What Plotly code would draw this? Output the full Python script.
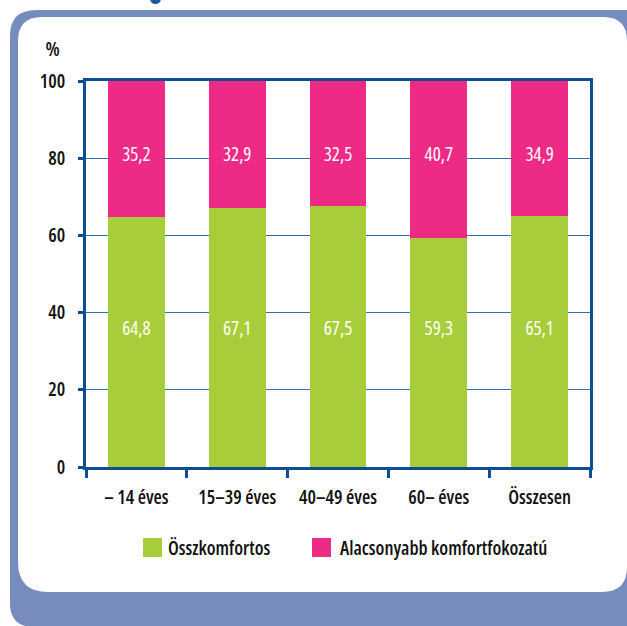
import plotly.graph_objects as go

categories = ["– 14 éves", "15–39 éves", "40–49 éves", "60– éves", "Összesen"]
osszkomfortos = [64.8, 67.1, 67.5, 59.3, 65.1]
alacsonyabb = [35.2, 32.9, 32.5, 40.7, 34.9]
series_names = ["Összkomfortos", "Alacsonyabb komfortfokozatú"]
y_ticks = [0, 20, 40, 60, 80, 100]

GREEN = "#A8CD3A"
PINK = "#EE2A87"
AXIS = "#0D4E92"
FRAME = "#778BBD"
FONT = "Open Sans"

W, H = 627, 626
L, R, T, B = 86, 590, 81, 467  # plot area in pixels


def px(x):
    return (x - L) / (R - L)


def py(y):
    return (B - y) / (B - T)


def rrect(x0, y0, x1, y1, tl, tr, br, bl):
    pts = [
        f"M{px(x0 + tl)},{py(y0)}",
        f"L{px(x1 - tr)},{py(y0)}",
        f"Q{px(x1)},{py(y0)} {px(x1)},{py(y0 + tr)}",
        f"L{px(x1)},{py(y1 - br)}",
        f"Q{px(x1)},{py(y1)} {px(x1 - br)},{py(y1)}",
        f"L{px(x0 + bl)},{py(y1)}",
        f"Q{px(x0)},{py(y1)} {px(x0)},{py(y1 - bl)}",
        f"L{px(x0)},{py(y0 + tl)}",
        f"Q{px(x0)},{py(y0)} {px(x0 + tl)},{py(y0)}",
        "Z",
    ]
    return " ".join(pts)


def f(size, color="#111", weight=600):
    return dict(family=FONT, size=size, color=color, weight=weight)


fig = go.Figure()
fig.add_bar(x=categories, y=osszkomfortos, name=series_names[0],
            marker=dict(color=GREEN, line=dict(width=0)), showlegend=False)
fig.add_bar(x=categories, y=alacsonyabb, name=series_names[1],
            marker=dict(color=PINK, line=dict(width=0)), showlegend=False)

fig.add_scatter(x=categories, y=[35.5] * len(categories), mode="text",
                text=[f"{v:.1f}".replace(".", ",") for v in osszkomfortos],
                textfont=f(19, "white", 500), showlegend=False, hoverinfo="skip")
fig.add_scatter(x=categories, y=[80.6] * len(categories), mode="text",
                text=[f"{v:.1f}".replace(".", ",") for v in alacsonyabb],
                textfont=f(19, "white", 500), showlegend=False, hoverinfo="skip")

shapes = [
    dict(type="path", xref="paper", yref="paper", layer="below",
         path=rrect(10, 10, 660, 627, 26, 26, 22, 24),
         fillcolor=FRAME, line=dict(width=0)),
    dict(type="path", xref="paper", yref="paper", layer="below",
         path=rrect(18, 17, 627, 592, 24, 24, 25, 30),
         fillcolor="white", line=dict(width=0)),
    dict(type="circle", xref="paper", yref="paper", layer="below",
         x0=px(150), x1=px(161), y0=py(4), y1=py(-7),
         fillcolor="#1A5A9A", line=dict(width=0)),
    dict(type="rect", xref="paper", yref="paper",
         x0=px(143), x1=px(162), y0=py(538), y1=py(557),
         fillcolor=GREEN, line=dict(width=0)),
    dict(type="rect", xref="paper", yref="paper",
         x0=px(312), x1=px(331), y0=py(538), y1=py(557),
         fillcolor=PINK, line=dict(width=0)),
]

annotations = [
    dict(text="%", xref="paper", yref="paper", x=px(52), y=py(49),
         showarrow=False, font=f(20), xanchor="center", yanchor="middle"),
    dict(text=series_names[0], xref="paper", yref="paper", x=px(166), y=py(548),
         showarrow=False, font=f(19), xanchor="left", yanchor="middle", align="left"),
    dict(text=series_names[1], xref="paper", yref="paper", x=px(338), y=py(548),
         showarrow=False, font=f(19), xanchor="left", yanchor="middle", align="left"),
]

fig.update_layout(
    width=W, height=H,
    margin=dict(l=L, r=W - R, t=T, b=H - B, autoexpand=False),
    barmode="stack", bargap=0.435,
    paper_bgcolor="white", plot_bgcolor="rgba(0,0,0,0)",
    font=f(19),
    shapes=shapes, annotations=annotations,
    showlegend=False,
)
fig.update_xaxes(
    type="category", showline=True, linecolor=AXIS, linewidth=3, mirror=True,
    ticks="outside", tickson="boundaries", ticklen=8, tickwidth=3, tickcolor=AXIS,
    showgrid=False, tickfont=f(19), ticklabelstandoff=11,
    tickangle=0, automargin=False,
)
fig.update_yaxes(
    range=[0, 100], tickvals=y_ticks, showline=True, linecolor=AXIS, linewidth=3,
    mirror=True, ticks="outside", ticklen=5, tickwidth=3, tickcolor=AXIS,
    showgrid=True, gridcolor="#3A6DA8", gridwidth=1, zeroline=False,
    tickfont=f(19), ticklabelstandoff=9, automargin=False,
)

post = (
    "document.body.style.margin='0';"
    "document.body.style.overflow='hidden';"
    "var s=document.createElement('style');"
    "s.textContent='svg text{font-stretch:75% !important;}';"
    "document.head.appendChild(s);"
)
fig.write_html("out.html", post_script=post, config={"displayModeBar": False})
